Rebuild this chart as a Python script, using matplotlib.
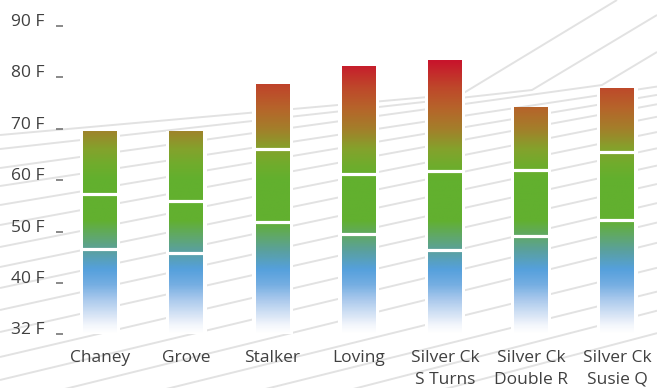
import numpy as np
import matplotlib
matplotlib.use('Agg')
from matplotlib import pyplot as plt
from matplotlib.colors import LinearSegmentedColormap, Normalize

plt.rcParams['font.family'] = ['Open Sans', 'DejaVu Sans']

# data (deg F)
sites = ['Chaney', 'Grove', 'Stalker', 'Loving',
         'Silver Ck\nS Turns', 'Silver Ck\nDouble R', 'Silver Ck\nSusie Q']
low_temp = [46.6, 45.9, 51.9, 49.6, 46.4, 49.1, 52.2]
mid_temp = [57.3, 56.0, 66.0, 61.3, 61.7, 61.9, 65.4]
high_temp = [69.6, 69.6, 78.8, 82.3, 83.3, 74.3, 77.9]
y_ticks = [30, 40, 50, 60, 70, 80, 90]
y_labels = ['32 F', '40 F', '50 F', '60 F', '70 F', '80 F', '90 F']

# temperature colour ramp: value -> colour
stops = [(30, '#ffffff'), (31.5, '#f4f7fc'), (33, '#dfe9f7'), (36.7, '#a8c8ec'),
         (39.5, '#75aee2'), (42.5, '#55a0dc'), (46, '#5aa0a0'), (49, '#60a868'),
         (52, '#62b030'), (60, '#62b02e'), (63, '#70ac2c'), (66, '#84a22c'),
         (70, '#a47e2a'), (74, '#b6642a'), (78, '#be482a'), (83, '#c8162c'),
         (90, '#c8102c')]
cmap = LinearSegmentedColormap.from_list(
    'temp', [((v - 30) / 60, c) for v, c in stops])
norm = Normalize(30, 90)


def background(fig):
    # light grey perspective lines behind the chart
    bg = fig.add_axes([0, 0, 1, 1], zorder=0)
    bg.set_xlim(0, 657)
    bg.set_ylim(388, 0)
    bg.axis('off')
    kw = dict(color='#e2e2e2', lw=1.4, solid_capstyle='butt')
    bg.plot([0, 462, 617], [135, 94, 0], **kw)
    bg.plot([0, 532, 657], [149, 90, 15], **kw)
    bg.plot([0, 602, 657], [168, 85, 52], **kw)
    left = [186, 205, 225, 247, 267, 288, 310, 332, 357, 380, 405, 430, 455, 480, 506]
    mid = [102, 112, 123, 137, 153, 170, 188, 207, 227, 247, 268, 293, 317, 337, 360]
    for y0, y1 in zip(left, mid):
        y2 = y0 + (y1 - y0) * 657 / 555
        bg.plot([0, 657], [y0, y2], **kw)


def graphing():
    fig = plt.figure(figsize=(6.57, 3.88), dpi=100)
    background(fig)
    ax = fig.add_axes([63 / 657, (388 - 334.4) / 388, 594 / 657, 308.4 / 388], zorder=1)
    ax.set_facecolor('none')

    x = np.arange(len(sites))
    w = 0.394
    bottoms = [30] * len(sites)
    heights = [h - 30 for h in high_temp]

    # white backing so the grey lines stop short of the bars
    ax.bar(x, [h + 0.5 for h in heights], width=0.47, bottom=29.5,
           color='white', zorder=2)
    bars = ax.bar(x, heights, width=w, bottom=bottoms, color='none', zorder=4)

    ramp = np.linspace(30, 90, 600).reshape(-1, 1)
    for xi, patch in zip(x, bars):
        im = ax.imshow(ramp, extent=(xi - w / 2, xi + w / 2, 30, 90), origin='lower',
                       aspect='auto', cmap=cmap, norm=norm, zorder=3)
        im.set_clip_path(patch)

    ax.hlines(low_temp, x - w / 2 - 0.01, x + w / 2 + 0.01, color='white', lw=2.3, zorder=5)
    ax.hlines(mid_temp, x - w / 2 - 0.01, x + w / 2 + 0.01, color='white', lw=2.3, zorder=5)

    ax.set_xlim(-0.43, 6.46)
    ax.set_ylim(30, 90)
    ax.set_yticks(y_ticks, y_labels)
    ax.set_xticks(x, sites)
    for s in ax.spines.values():
        s.set_visible(False)
    ax.tick_params(axis='y', length=5, width=1.1, color='#6a6a6a', pad=8.5,
                   labelsize=12.5, labelcolor='#404040')
    ax.tick_params(axis='x', length=0, pad=11, labelsize=12.5, labelcolor='#404040')
    for lbl in ax.get_yticklabels():
        lbl.set_va('baseline')
    for lbl in ax.get_xticklabels():
        lbl.set_linespacing(1.5)

    fig.savefig('out.png', dpi=100)


if __name__ == "__main__":
    graphing()
